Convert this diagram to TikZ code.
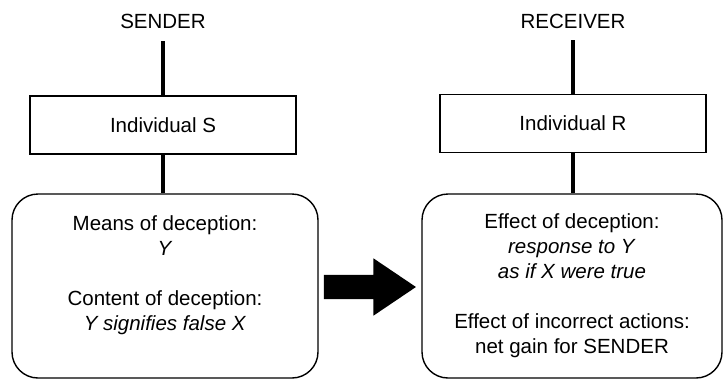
\documentclass[tikz,border=0pt]{standalone}
\usepackage{fontspec}
\setmainfont{Liberation Sans}
\usetikzlibrary{shapes.arrows}

\tikzset{
    lbl/.style={anchor=base, inner sep=0pt},
    indiv/.style={draw, line width=1.2pt, minimum width=266pt, minimum height=58pt},
    panel/.style={draw, line width=1.4pt, rounded corners=26pt, minimum height=184pt, align=center},
    link/.style={line width=3.5pt},
    flow/.style={single arrow, fill, draw=none, inner sep=12pt, minimum height=92pt,
        single arrow head extend=16.5pt, single arrow tip angle=68}
}

\begin{document}
\begin{tikzpicture}[x=1pt,y=1pt,font=\fontsize{20.5}{25}\selectfont]
        \useasboundingbox (0,0) rectangle (724,-381);

        % the two sides
        \node[lbl] (sender) at (163,-28) {SENDER};
        \node[lbl] (receiver) at (573,-28) {RECEIVER};

        \node[indiv] (indS) at (163,-125) {Individual S};
        \node[indiv] (indR) at (573,-123.5) {Individual R};

        \node[panel, minimum width=306pt] (means) at (165,-286)
            {Means of deception:\\ \textit{Y}\\[25pt]
             Content of deception:\\ \textit{Y signifies false X}\\ ~};
        \node[panel, minimum width=300pt] (effect) at (572,-286)
            {Effect of deception:\\ \textit{response to Y}\\ \textit{as if X were true}\\[25pt]
             Effect of incorrect actions:\\ net gain for SENDER};

        \draw[link] ([yshift=-13pt]sender.base) -- (sender.base |- indS.north);
        \draw[link] (indS) -- (indS |- means.north);
        \draw[link] ([yshift=-12pt]receiver.base) -- (receiver.base |- indR.north);
        \draw[link] (indR) -- (indR |- effect.north);

        % big arrow between the panels
        \node[flow, anchor=tip] (gain) at ([xshift=-5pt,yshift=-1pt]effect.west) {};
    \end{tikzpicture}
\end{document}
